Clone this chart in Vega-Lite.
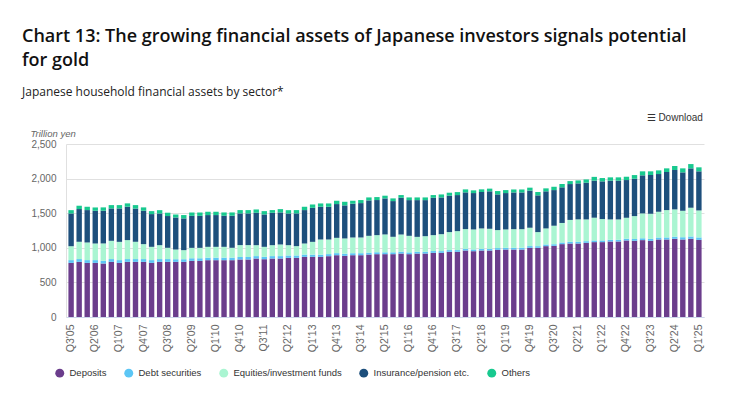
{
  "$schema": "https://vega.github.io/schema/vega-lite/v6.json",
  "width": 638,
  "height": 173,
  "padding": {"left": 22, "top": 27, "right": 10, "bottom": 5},
  "background": "white",
  "title": {
    "text": ["Chart 13: The growing financial assets of Japanese investors signals potential", "for gold"],
    "subtitle": "Japanese household financial assets by sector*",
    "anchor": "start",
    "frame": "group",
    "dx": -44,
    "font": "Open Sans",
    "fontSize": 18,
    "fontWeight": 600,
    "color": "#111111",
    "lineHeight": 24,
    "subtitleFont": "Open Sans",
    "subtitleFontSize": 12,
    "subtitleColor": "#222222",
    "subtitlePadding": 17,
    "offset": 15
  },
  "resolve": {"axis": {"x": "independent", "y": "independent"}},
  "datasets": {
    "quarters": [
      {"q": "Q3'05", "dep": 782, "debt": 40, "eq": 201, "ins": 473, "oth": 48},
      {"q": "Q4'05", "dep": 797, "debt": 40, "eq": 250, "ins": 473, "oth": 48},
      {"q": "Q1'06", "dep": 782, "debt": 40, "eq": 255, "ins": 468, "oth": 48},
      {"q": "Q2'06", "dep": 782, "debt": 40, "eq": 240, "ins": 473, "oth": 48},
      {"q": "Q3'06", "dep": 773, "debt": 40, "eq": 250, "ins": 473, "oth": 48},
      {"q": "Q4'06", "dep": 797, "debt": 40, "eq": 264, "ins": 468, "oth": 48},
      {"q": "Q1'07", "dep": 782, "debt": 40, "eq": 264, "ins": 483, "oth": 48},
      {"q": "Q2'07", "dep": 797, "debt": 40, "eq": 274, "ins": 483, "oth": 48},
      {"q": "Q3'07", "dep": 797, "debt": 40, "eq": 250, "ins": 480, "oth": 50},
      {"q": "Q4'07", "dep": 797, "debt": 40, "eq": 216, "ins": 483, "oth": 48},
      {"q": "Q1'08", "dep": 782, "debt": 40, "eq": 192, "ins": 473, "oth": 43},
      {"q": "Q2'08", "dep": 797, "debt": 40, "eq": 201, "ins": 458, "oth": 48},
      {"q": "Q3'08", "dep": 797, "debt": 40, "eq": 163, "ins": 459, "oth": 48},
      {"q": "Q4'08", "dep": 797, "debt": 38, "eq": 140, "ins": 463, "oth": 43},
      {"q": "Q1'09", "dep": 797, "debt": 38, "eq": 131, "ins": 459, "oth": 48},
      {"q": "Q2'09", "dep": 811, "debt": 38, "eq": 150, "ins": 463, "oth": 48},
      {"q": "Q3'09", "dep": 811, "debt": 38, "eq": 150, "ins": 463, "oth": 48},
      {"q": "Q4'09", "dep": 821, "debt": 37, "eq": 156, "ins": 459, "oth": 48},
      {"q": "Q1'10", "dep": 821, "debt": 37, "eq": 156, "ins": 459, "oth": 48},
      {"q": "Q2'10", "dep": 821, "debt": 37, "eq": 156, "ins": 449, "oth": 48},
      {"q": "Q3'10", "dep": 821, "debt": 37, "eq": 142, "ins": 463, "oth": 48},
      {"q": "Q4'10", "dep": 831, "debt": 36, "eq": 172, "ins": 458, "oth": 48},
      {"q": "Q1'11", "dep": 831, "debt": 36, "eq": 172, "ins": 458, "oth": 48},
      {"q": "Q2'11", "dep": 845, "debt": 35, "eq": 158, "ins": 468, "oth": 48},
      {"q": "Q3'11", "dep": 835, "debt": 35, "eq": 144, "ins": 468, "oth": 48},
      {"q": "Q4'11", "dep": 845, "debt": 35, "eq": 158, "ins": 468, "oth": 39},
      {"q": "Q1'12", "dep": 845, "debt": 35, "eq": 168, "ins": 463, "oth": 48},
      {"q": "Q2'12", "dep": 855, "debt": 34, "eq": 149, "ins": 458, "oth": 48},
      {"q": "Q3'12", "dep": 855, "debt": 34, "eq": 135, "ins": 473, "oth": 48},
      {"q": "Q4'12", "dep": 869, "debt": 33, "eq": 160, "ins": 483, "oth": 48},
      {"q": "Q1'13", "dep": 869, "debt": 32, "eq": 185, "ins": 492, "oth": 48},
      {"q": "Q2'13", "dep": 869, "debt": 31, "eq": 220, "ins": 473, "oth": 48},
      {"q": "Q3'13", "dep": 879, "debt": 30, "eq": 211, "ins": 473, "oth": 48},
      {"q": "Q4'13", "dep": 893, "debt": 30, "eq": 221, "ins": 488, "oth": 48},
      {"q": "Q1'14", "dep": 884, "debt": 30, "eq": 221, "ins": 478, "oth": 52},
      {"q": "Q2'14", "dep": 893, "debt": 29, "eq": 227, "ins": 488, "oth": 43},
      {"q": "Q3'14", "dep": 893, "debt": 29, "eq": 227, "ins": 497, "oth": 44},
      {"q": "Q4'14", "dep": 903, "debt": 28, "eq": 242, "ins": 512, "oth": 43},
      {"q": "Q1'15", "dep": 908, "debt": 28, "eq": 247, "ins": 507, "oth": 43},
      {"q": "Q2'15", "dep": 908, "debt": 27, "eq": 258, "ins": 521, "oth": 39},
      {"q": "Q3'15", "dep": 908, "debt": 27, "eq": 224, "ins": 516, "oth": 39},
      {"q": "Q4'15", "dep": 917, "debt": 27, "eq": 248, "ins": 531, "oth": 39},
      {"q": "Q1'16", "dep": 908, "debt": 26, "eq": 239, "ins": 516, "oth": 39},
      {"q": "Q2'16", "dep": 917, "debt": 26, "eq": 215, "ins": 531, "oth": 39},
      {"q": "Q3'16", "dep": 917, "debt": 26, "eq": 225, "ins": 521, "oth": 39},
      {"q": "Q4'16", "dep": 927, "debt": 26, "eq": 230, "ins": 540, "oth": 39},
      {"q": "Q1'17", "dep": 927, "debt": 25, "eq": 245, "ins": 531, "oth": 43},
      {"q": "Q2'17", "dep": 942, "debt": 25, "eq": 260, "ins": 526, "oth": 43},
      {"q": "Q3'17", "dep": 942, "debt": 25, "eq": 274, "ins": 521, "oth": 43},
      {"q": "Q4'17", "dep": 961, "debt": 25, "eq": 284, "ins": 531, "oth": 43},
      {"q": "Q1'18", "dep": 951, "debt": 25, "eq": 289, "ins": 526, "oth": 39},
      {"q": "Q2'18", "dep": 961, "debt": 25, "eq": 294, "ins": 526, "oth": 39},
      {"q": "Q3'18", "dep": 961, "debt": 25, "eq": 289, "ins": 541, "oth": 39},
      {"q": "Q4'18", "dep": 971, "debt": 25, "eq": 260, "ins": 516, "oth": 48},
      {"q": "Q1'19", "dep": 975, "debt": 25, "eq": 265, "ins": 526, "oth": 43},
      {"q": "Q2'19", "dep": 975, "debt": 25, "eq": 269, "ins": 531, "oth": 43},
      {"q": "Q3'19", "dep": 975, "debt": 25, "eq": 269, "ins": 531, "oth": 43},
      {"q": "Q4'19", "dep": 1000, "debt": 25, "eq": 265, "ins": 536, "oth": 43},
      {"q": "Q1'20", "dep": 1000, "debt": 24, "eq": 203, "ins": 531, "oth": 48},
      {"q": "Q2'20", "dep": 1024, "debt": 24, "eq": 232, "ins": 536, "oth": 43},
      {"q": "Q3'20", "dep": 1028, "debt": 24, "eq": 267, "ins": 515, "oth": 48},
      {"q": "Q4'20", "dep": 1053, "debt": 24, "eq": 282, "ins": 515, "oth": 48},
      {"q": "Q1'21", "dep": 1062, "debt": 24, "eq": 317, "ins": 518, "oth": 43},
      {"q": "Q2'21", "dep": 1062, "debt": 24, "eq": 325, "ins": 520, "oth": 43},
      {"q": "Q3'21", "dep": 1072, "debt": 24, "eq": 314, "ins": 530, "oth": 48},
      {"q": "Q4'21", "dep": 1082, "debt": 24, "eq": 329, "ins": 535, "oth": 55},
      {"q": "Q1'22", "dep": 1082, "debt": 24, "eq": 309, "ins": 545, "oth": 48},
      {"q": "Q2'22", "dep": 1091, "debt": 25, "eq": 294, "ins": 560, "oth": 48},
      {"q": "Q3'22", "dep": 1091, "debt": 25, "eq": 294, "ins": 560, "oth": 48},
      {"q": "Q4'22", "dep": 1106, "debt": 25, "eq": 303, "ins": 545, "oth": 48},
      {"q": "Q1'23", "dep": 1101, "debt": 26, "eq": 331, "ins": 540, "oth": 53},
      {"q": "Q2'23", "dep": 1111, "debt": 27, "eq": 359, "ins": 550, "oth": 58},
      {"q": "Q3'23", "dep": 1101, "debt": 28, "eq": 363, "ins": 560, "oth": 53},
      {"q": "Q4'23", "dep": 1120, "debt": 29, "eq": 372, "ins": 545, "oth": 53},
      {"q": "Q1'24", "dep": 1120, "debt": 30, "eq": 395, "ins": 550, "oth": 53},
      {"q": "Q2'24", "dep": 1130, "debt": 31, "eq": 394, "ins": 569, "oth": 58},
      {"q": "Q3'24", "dep": 1120, "debt": 33, "eq": 382, "ins": 555, "oth": 58},
      {"q": "Q4'24", "dep": 1130, "debt": 34, "eq": 415, "ins": 569, "oth": 62},
      {"q": "Q1'25", "dep": 1115, "debt": 35, "eq": 390, "ins": 565, "oth": 58}
    ],
    "sectors": [
      {"key": "dep", "sector": "Deposits", "rank": 1},
      {"key": "debt", "sector": "Debt securities", "rank": 2},
      {"key": "eq", "sector": "Equities/investment funds", "rank": 3},
      {"key": "ins", "sector": "Insurance/pension etc.", "rank": 4},
      {"key": "oth", "sector": "Others", "rank": 5}
    ],
    "download": [{"label": "☰  Download"}]
  },
  "layer": [
    {
      "data": {"name": "quarters"},
      "transform": [
        {"fold": ["dep", "debt", "eq", "ins", "oth"], "as": ["key", "value"]},
        {"lookup": "key", "from": {"data": {"name": "sectors"}, "key": "key", "fields": ["sector", "rank"]}}
      ],
      "mark": {"type": "bar", "strokeWidth": 0},
      "encoding": {
        "x": {
          "field": "q",
          "type": "nominal",
          "sort": null,
          "scale": {"paddingInner": 0.33, "paddingOuter": 0.3},
          "axis": {
            "title": null,
            "values": ["Q3'05", "Q2'06", "Q1'07", "Q4'07", "Q3'08", "Q2'09", "Q1'10", "Q4'10", "Q3'11", "Q2'12", "Q1'13", "Q4'13", "Q3'14", "Q2'15", "Q1'16", "Q4'16", "Q3'17", "Q2'18", "Q1'19", "Q4'19", "Q3'20", "Q2'21", "Q1'22", "Q4'22", "Q3'23", "Q2'24", "Q1'25"],
            "labelAngle": -90,
            "labelFont": "Liberation Sans",
            "labelFontSize": 10.5,
            "labelColor": "#666666",
            "labelPadding": 7,
            "ticks": false,
            "domainColor": "#ccd6eb",
            "grid": false
          }
        },
        "y": {
          "field": "value",
          "type": "quantitative",
          "stack": "zero",
          "scale": {"domain": [0, 2500], "nice": false},
          "axis": {
            "title": "Trillion yen",
            "titleAngle": 0,
            "titleAlign": "left",
            "titleBaseline": "bottom",
            "titleX": -36,
            "titleY": -6,
            "titleFont": "Liberation Sans",
            "titleFontSize": 9.5,
            "titleFontStyle": "italic",
            "titleFontWeight": "normal",
            "titleColor": "#666666",
            "values": [0, 500, 1000, 1500, 2000, 2500],
            "format": ",.0f",
            "labelFont": "Liberation Sans",
            "labelFontSize": 10,
            "labelColor": "#666666",
            "labelPadding": 10,
            "ticks": false,
            "domain": true,
            "domainColor": "#e0e0e0",
            "grid": true,
            "gridColor": "#e0e0e0"
          }
        },
        "color": {
          "field": "sector",
          "type": "nominal",
          "scale": {
            "domain": ["Deposits", "Debt securities", "Equities/investment funds", "Insurance/pension etc.", "Others"],
            "range": ["#6b3d8c", "#5cc6f5", "#aaf5d2", "#1d4f7c", "#18c98f"]
          },
          "legend": {
            "title": null,
            "orient": "none",
            "legendX": -11,
            "legendY": 224,
            "direction": "horizontal",
            "columns": 5,
            "symbolType": "circle",
            "symbolSize": 80,
            "symbolStrokeWidth": 0,
            "labelFont": "Liberation Sans",
            "labelFontSize": 9.5,
            "labelColor": "#333333",
            "labelOffset": 5,
            "columnPadding": 17,
            "padding": 0
          }
        },
        "order": {"field": "rank", "type": "quantitative", "sort": "ascending"}
      }
    },
    {
      "data": {"name": "download"},
      "mark": {"type": "text", "align": "right", "baseline": "middle", "dx": 4, "font": "Liberation Sans", "fontSize": 10, "color": "#333333"},
      "encoding": {
        "x": {"datum": "Q1'25", "type": "nominal", "axis": null},
        "y": {"datum": 2880, "type": "quantitative", "axis": null},
        "text": {"field": "label"}
      }
    }
  ],
  "config": {
    "view": {"stroke": null}
  }
}
